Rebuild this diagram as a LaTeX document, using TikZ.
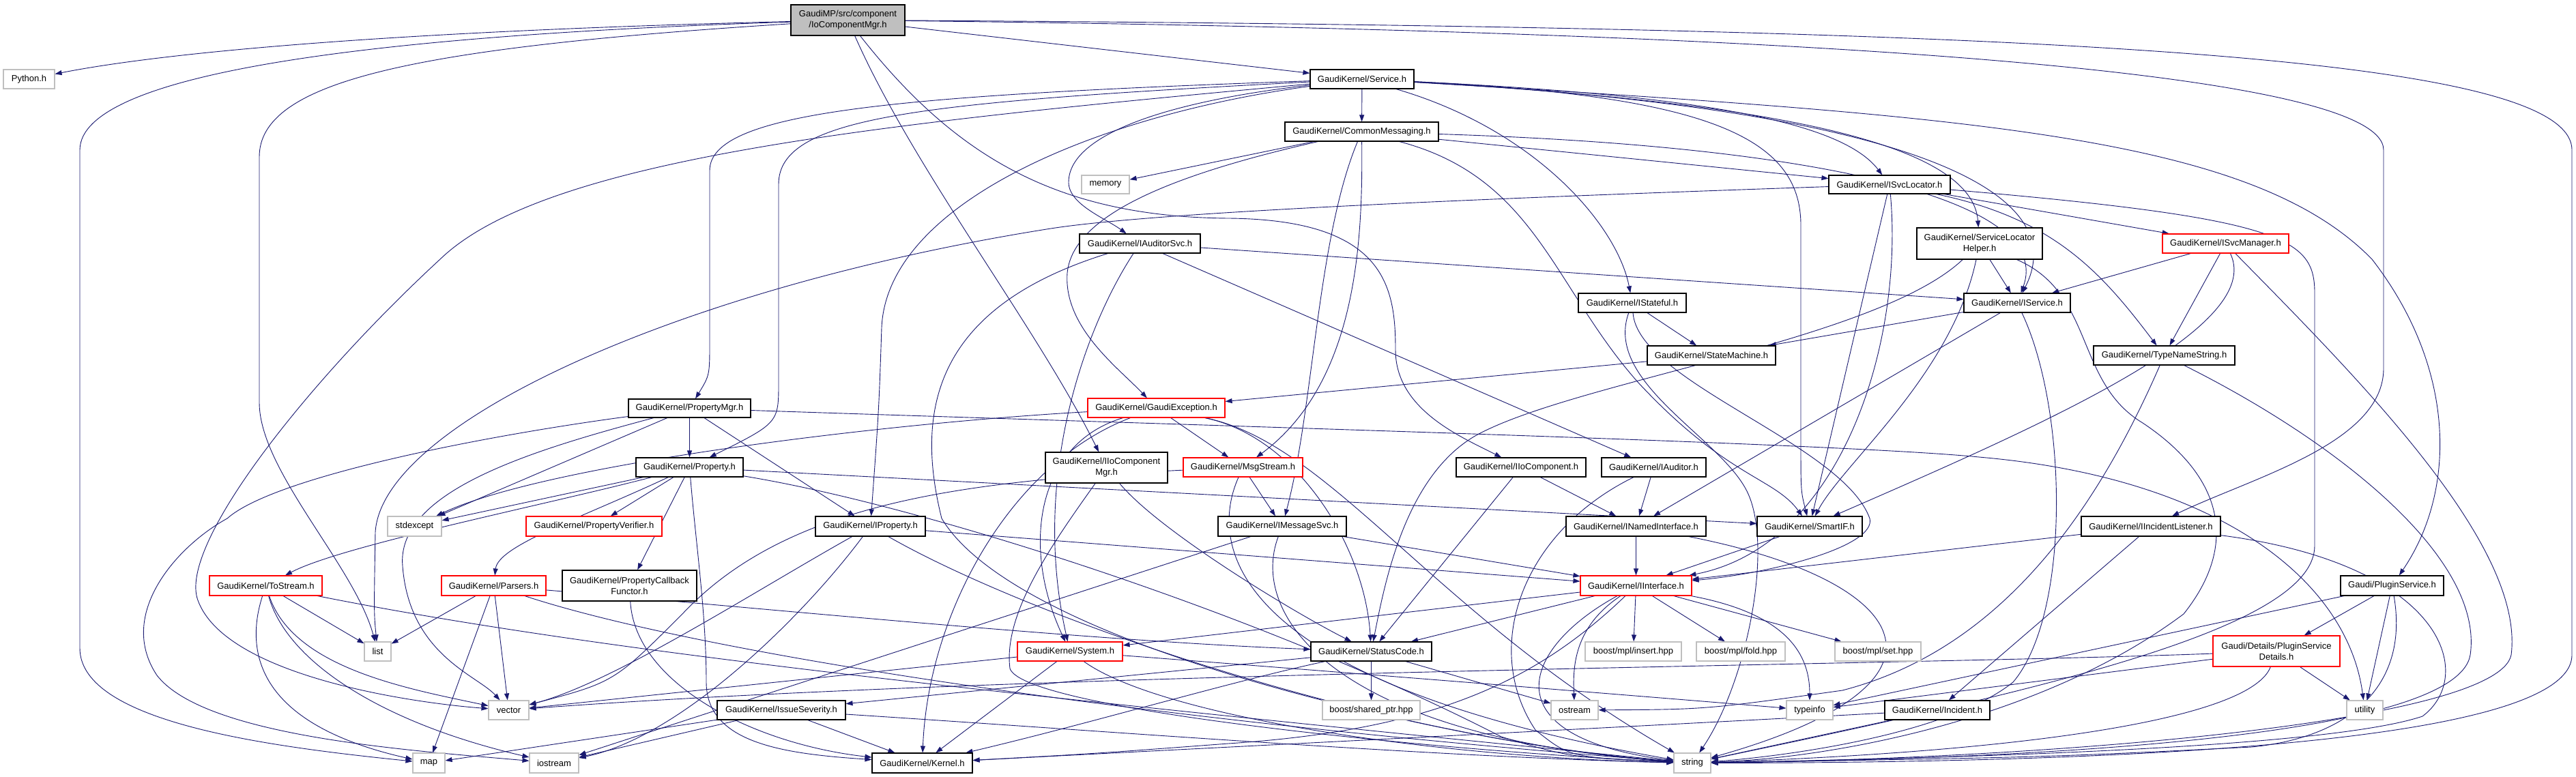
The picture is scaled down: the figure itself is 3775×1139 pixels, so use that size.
\documentclass[tikz,border=0pt]{standalone}
\usepackage{fontspec}
\setmainfont{Liberation Sans}
\usetikzlibrary{arrows.meta}
\pgfdeclarelayer{bg}
\pgfdeclarelayer{back}
\pgfsetlayers{back,bg,main}
\definecolor{edgec}{HTML}{191970}
\definecolor{extc}{HTML}{BFBFBF}
\definecolor{mainfill}{HTML}{BFBFBF}
\definecolor{redc}{HTML}{FF0000}
\newcommand\fs{\fontsize{13}{16}\selectfont}
\newcommand\nd[7]{\node[#6, minimum width={#4pt-#2pt}, minimum height={#5pt-#3pt}] (#1) at ({(#2+#4)/2},{(#3+#5)/2}) {#7};}
\tikzset{
 bx/.style={draw=black, line width=1.1pt, fill=white, inner sep=0pt, align=center, font=\fs},
 ext/.style={bx, draw=extc},
 rbx/.style={bx, draw=redc},
 mainbx/.style={bx, fill=mainfill},
 ed/.style={draw=edgec, line width=0.9pt, -{Triangle[length=10pt,width=7pt]}}
}
\begin{document}
\begin{tikzpicture}[x=1pt,y=-1pt]
\begin{pgfonlayer}{back}
\fill[white] (0,0) rectangle (3775,1139);
\end{pgfonlayer}
\useasboundingbox (0,0) rectangle (3775,1139);
\nd{main}{1159}{7}{1326}{52}{mainbx}{GaudiMP/src/component\\/IoComponentMgr.h}
\nd{python}{5}{102}{80}{130}{ext}{Python.h}
\nd{service}{1920}{102}{2072}{130}{bx}{GaudiKernel/Service.h}
\nd{commsg}{1883}{179}{2108}{207}{bx}{GaudiKernel/CommonMessaging.h}
\nd{memory}{1585}{257}{1655}{284}{ext}{memory}
\nd{svcloc}{2680}{257}{2858}{284}{bx}{GaudiKernel/ISvcLocator.h}
\nd{auditsvc}{1582}{343}{1759}{371}{bx}{GaudiKernel/IAuditorSvc.h}
\nd{slhelper}{2809}{334}{2993}{380}{bx}{GaudiKernel/ServiceLocator\\Helper.h}
\nd{svcmgr}{3169}{343}{3354}{371}{rbx}{GaudiKernel/ISvcManager.h}
\nd{istateful}{2313}{430}{2471}{458}{bx}{GaudiKernel/IStateful.h}
\nd{iservice}{2878}{430}{3034}{458}{bx}{GaudiKernel/IService.h}
\nd{statemach}{2414}{507}{2602}{535}{bx}{GaudiKernel/StateMachine.h}
\nd{typename}{3068}{507}{3275}{535}{bx}{GaudiKernel/TypeNameString.h}
\nd{propmgr}{921}{585}{1100}{612}{bx}{GaudiKernel/PropertyMgr.h}
\nd{gexc}{1594}{584}{1795}{612}{rbx}{GaudiKernel/GaudiException.h}
\nd{property}{932}{671}{1089}{699}{bx}{GaudiKernel/Property.h}
\nd{iiocompmgr}{1532}{663}{1711}{708}{bx}{GaudiKernel/IIoComponent\\Mgr.h}
\nd{msgstream}{1734}{671}{1909}{699}{rbx}{GaudiKernel/MsgStream.h}
\nd{iiocomp}{2134}{671}{2324}{699}{bx}{GaudiKernel/IIoComponent.h}
\nd{iauditor}{2347}{671}{2500}{699}{bx}{GaudiKernel/IAuditor.h}
\nd{stdexcept}{568}{757}{647}{786}{ext}{stdexcept}
\nd{propverif}{771}{757}{970}{786}{rbx}{GaudiKernel/PropertyVerifier.h}
\nd{iproperty}{1195}{757}{1356}{786}{bx}{GaudiKernel/IProperty.h}
\nd{imsgsvc}{1785}{757}{1973}{786}{bx}{GaudiKernel/IMessageSvc.h}
\nd{inamed}{2295}{757}{2500}{786}{bx}{GaudiKernel/INamedInterface.h}
\nd{smartif}{2575}{757}{2729}{786}{bx}{GaudiKernel/SmartIF.h}
\nd{iincl}{3050}{757}{3254}{786}{bx}{GaudiKernel/IIncidentListener.h}
\nd{tostream}{307}{844}{472}{873}{rbx}{GaudiKernel/ToStream.h}
\nd{parsers}{647}{844}{800}{873}{rbx}{GaudiKernel/Parsers.h}
\nd{pcbf}{824}{836}{1021}{881}{bx}{GaudiKernel/PropertyCallback\\Functor.h}
\nd{iinterface}{2316}{844}{2479}{873}{rbx}{GaudiKernel/IInterface.h}
\nd{plugin}{3430}{844}{3581}{873}{bx}{Gaudi/PluginService.h}
\nd{list}{534}{941}{573}{969}{ext}{list}
\nd{system}{1491}{941}{1645}{969}{rbx}{GaudiKernel/System.h}
\nd{statuscode}{1921}{941}{2098}{969}{bx}{GaudiKernel/StatusCode.h}
\nd{mplinsert}{2323}{941}{2464}{969}{ext}{boost/mpl/insert.hpp}
\nd{mplfold}{2486}{941}{2616}{969}{ext}{boost/mpl/fold.hpp}
\nd{mplset}{2689}{941}{2815}{969}{ext}{boost/mpl/set.hpp}
\nd{psdetails}{3243}{932}{3429}{977}{rbx}{Gaudi/Details/PluginService\\Details.h}
\nd{vector}{716}{1027}{775}{1055}{ext}{vector}
\nd{issuesev}{1051}{1027}{1239}{1055}{bx}{GaudiKernel/IssueSeverity.h}
\nd{sharedptr}{1938}{1027}{2081}{1055}{ext}{boost/shared\_ptr.hpp}
\nd{ostream}{2273}{1027}{2342}{1055}{ext}{ostream}
\nd{typeinfo}{2618}{1027}{2686}{1055}{ext}{typeinfo}
\nd{incident}{2762}{1027}{2916}{1055}{bx}{GaudiKernel/Incident.h}
\nd{utility}{3439}{1027}{3492}{1055}{ext}{utility}
\nd{map}{605}{1104}{652}{1133}{ext}{map}
\nd{iostream}{776}{1104}{848}{1133}{ext}{iostream}
\nd{kernel}{1278}{1104}{1425}{1133}{bx}{GaudiKernel/Kernel.h}
\nd{string}{2453}{1104}{2507}{1133}{ext}{string}

\begin{pgfonlayer}{bg}
% main
\draw[ed] (main) .. controls (600,45) and (250,75) .. (python);
\draw[ed] (main) .. controls (600,50) and (117,100) .. (117,220) -- (117,950) .. controls (117,1060) and (400,1095) .. (map);
\draw[ed] (main) .. controls (600,70) and (380,120) .. (380,230) -- (380,590) .. controls (380,690) and (520,830) .. (list);
\draw[ed] (main) -- (service);
\draw[ed] (main) .. controls (1340,250) and (1520,480) .. (iiocompmgr);
\draw[ed] (main) .. controls (1400,230) and (1550,318) .. (1800,320) .. controls (2030,322) and (2045,420) .. (2045,513) .. controls (2045,600) and (2140,640) .. (iiocomp);
\draw[ed] (main) .. controls (2600,45) and (3493,100) .. (3493,220) -- (3493,540) .. controls (3493,650) and (3300,700) .. (iincl);
\draw[ed] (main) .. controls (3000,40) and (3769,80) .. (3769,220) -- (3769,960) .. controls (3769,1100) and (3000,1118) .. (string);
% service
\draw[ed] (service) -- (commsg);
\draw[ed] (service) .. controls (2500,140) and (2700,180) .. (svcloc);
\draw[ed] (service) .. controls (2600,150) and (2890,210) .. (slhelper);
\draw[ed] (service) .. controls (2800,160) and (3040,280) .. (iservice);
\draw[ed] (service) .. controls (2250,190) and (2370,330) .. (istateful);
\draw[ed] (service) .. controls (2500,140) and (2639,200) .. (2639,330) -- (2639,650) .. controls (2639,720) .. (smartif);
\draw[ed] (service) .. controls (1300,140) and (1040,165) .. (1040,250) -- (1040,500) .. controls (1040,550) .. (propmgr);
\draw[ed] (service) .. controls (1350,150) and (1141,170) .. (1141,270) -- (1141,560) .. controls (1141,620) .. (property);
\draw[ed] (service) .. controls (1600,170) and (1300,300) .. (1292,480) .. controls (1288,600) .. (iproperty);
\draw[ed] (service) .. controls (1700,150) and (1565,200) .. (1566,268) .. controls (1567,300) and (1620,320) .. (auditsvc);
\draw[ed] (service) .. controls (1300,180) and (800,230) .. (645,380) .. controls (450,560) and (260,800) .. (290,880) .. controls (330,990) and (600,1030) .. (vector);
\draw[ed] (service) .. controls (2900,170) and (3300,200) .. (3476,380) .. controls (3600,540) and (3600,720) .. (plugin);
% commonmessaging
\draw[ed] (commsg) -- (memory);
\draw[ed] (commsg) -- (svcloc);
\draw[ed] (commsg) .. controls (2700,215) and (3010,300) .. (iservice);
\draw[ed] (commsg) .. controls (1700,260) and (1572,320) .. (1564,400) .. controls (1558,480) and (1640,540) .. (gexc);
\draw[ed] (commsg) .. controls (1997,350) and (1990,560) .. (msgstream);
\draw[ed] (commsg) .. controls (1930,350) and (1925,600) .. (imsgsvc);
\draw[ed] (commsg) .. controls (2250,260) and (2276,420) .. (2400,560) .. controls (2530,700) and (2600,700) .. (smartif);
% isvclocator
\draw[ed] (svcloc) -- (svcmgr);
\draw[ed] (svcloc) .. controls (3010,320) and (3080,400) .. (typename);
\draw[ed] (svcloc) -- (smartif);
\draw[ed] (svcloc) .. controls (2790,500) and (2700,800) .. (iinterface);
\draw[ed] (svcloc) .. controls (2200,290) and (1700,310) .. (1540,335) .. controls (1000,420) and (560,620) .. (550,780) .. controls (548,900) .. (list);
\draw[ed] (svcloc) .. controls (3350,320) and (3392,350) .. (3392,430) -- (3392,800) .. controls (3392,920) and (3000,1010) .. (string);
% servicelocatorhelper
\draw[ed] (slhelper) -- (iservice);
\draw[ed] (slhelper) .. controls (2750,500) and (2300,560) .. (2160,640) .. controls (2060,700) and (2030,850) .. (statuscode);
\draw[ed] (slhelper) .. controls (2860,550) and (2700,680) .. (smartif);
\draw[ed] (slhelper) .. controls (3070,430) and (3040,560) .. (3140,620) .. controls (3260,700) and (3280,800) .. (3200,900) .. controls (3000,1050) and (2700,1110) .. (string);
% isvcmanager
\draw[ed] (svcmgr) -- (iservice);
\draw[ed] (svcmgr) -- (typename);
\draw[ed] (svcmgr) .. controls (3320,480) and (3000,620) .. (smartif);
\draw[ed] (svcmgr) .. controls (3461,560) and (3700,800) .. (3680,960) .. controls (3660,1060) and (3000,1112) .. (string);
% iauditorsvc
\draw[ed] (auditsvc) -- (iservice);
\draw[ed] (auditsvc) -- (iauditor);
\draw[ed] (auditsvc) .. controls (1590,480) and (1510,700) .. (system);
\draw[ed] (auditsvc) .. controls (1370,450) and (1340,600) .. (1380,760) .. controls (1500,960) and (2200,1100) .. (string);
% istateful
\draw[ed] (istateful) -- (statemach);
\draw[ed] (istateful) .. controls (2400,560) and (2700,650) .. (2740,760) .. controls (2750,800) and (2600,840) .. (iinterface);
\draw[ed] (istateful) .. controls (2350,560) and (2520,640) .. (2560,720) .. controls (2600,800) and (2560,1000) .. (string);
% iservice
\draw[ed] (iservice) -- (statemach);
\draw[ed] (iservice) -- (inamed);
\draw[ed] (iservice) .. controls (3030,600) and (3035,900) .. (2950,1000) .. controls (2850,1080) and (2600,1110) .. (string);
% statemachine
\draw[ed] (statemach) -- (gexc);
% typenamestring
\draw[ed] (typename) .. controls (3050,800) and (2900,960) .. (2700,1012) .. controls (2500,1040) .. (ostream);
\draw[ed] (typename) .. controls (3430,650) and (3640,820) .. (3620,960) .. controls (3600,1080) and (3000,1112) .. (string);
% propertymgr
\draw[ed] (propmgr) -- (property);
\draw[ed] (propmgr) -- (iproperty);
\draw[ed] (propmgr) -- (stdexcept);
\draw[ed] (propmgr) .. controls (780,660) and (580,720) .. (590,830) .. controls (600,960) and (700,990) .. (vector);
\draw[ed] (propmgr) .. controls (700,640) and (400,700) .. (333,760) .. controls (260,800) and (170,900) .. (230,990) .. controls (300,1080) and (600,1100) .. (iostream);
\draw[ed] (propmgr) .. controls (1800,625) and (2700,650) .. (2900,670) .. controls (3250,700) and (3440,850) .. (utility);
% property
\draw[ed] (property) -- (propverif);
\draw[ed] (property) .. controls (850,760) and (730,800) .. (parsers);
\draw[ed] (property) .. controls (800,740) and (500,800) .. (tostream);
\draw[ed] (property) -- (pcbf);
\draw[ed] (property) -- (stdexcept);
\draw[ed] (property) .. controls (1020,800) and (1035,900) .. (1035,1000) .. controls (1035,1090) and (1150,1105) .. (kernel);
\draw[ed] (property) -- (smartif);
\draw[ed] (property) .. controls (1350,740) and (1850,900) .. (2200,1080) .. controls (2300,1110) .. (string);
% iproperty
\draw[ed] (iproperty) -- (iinterface);
\draw[ed] (iproperty) .. controls (1100,870) and (900,1000) .. (vector);
\draw[ed] (iproperty) .. controls (1180,900) and (1000,1080) .. (iostream);
\draw[ed] (iproperty) .. controls (1500,900) and (2000,1080) .. (string);
% imessagesvc
\draw[ed] (imsgsvc) -- (iinterface);
\draw[ed] (imsgsvc) .. controls (1830,900) and (1950,1080) .. (string);
\draw[ed] (imsgsvc) -- (iostream);
% msgstream
\draw[ed] (msgstream) -- (imsgsvc);
\draw[ed] (msgstream) .. controls (1770,800) and (1800,1000) .. (string);
\draw[ed] (msgstream) .. controls (1400,705) and (1150,740) .. (1000,900) .. controls (900,1000) .. (vector);
% iiocomponentmgr
\draw[ed] (iiocompmgr) .. controls (1700,780) and (1900,900) .. (statuscode);
\draw[ed] (iiocompmgr) .. controls (1540,800) and (1470,900) .. (1480,980) .. controls (1500,1040) and (2100,1100) .. (string);
% iiocomponent, iauditor
\draw[ed] (iiocomp) -- (inamed);
\draw[ed] (iiocomp) -- (statuscode);
\draw[ed] (iauditor) -- (inamed);
\draw[ed] (iauditor) .. controls (2230,780) and (2170,950) .. (2250,1070) .. controls (2300,1110) .. (string);
% inamedinterface, smartif
\draw[ed] (inamed) -- (iinterface);
\draw[ed] (inamed) .. controls (2800,850) and (2900,1000) .. (string);
\draw[ed] (smartif) -- (iinterface);
% iincidentlistener
\draw[ed] (iincl) -- (iinterface);
\draw[ed] (iincl) -- (incident);
\draw[ed] (iincl) .. controls (3582,827) and (3630,990) .. (3550,1050) .. controls (3400,1100) and (2800,1112) .. (string);
% tostream
\draw[ed] (tostream) -- (list);
\draw[ed] (tostream) .. controls (430,980) and (600,1010) .. (vector);
\draw[ed] (tostream) .. controls (360,950) and (370,1060) .. (map);
\draw[ed] (tostream) .. controls (420,970) and (560,1060) .. (iostream);
\draw[ed] (tostream) .. controls (900,960) and (1500,1020) .. (string);
% parsers
\draw[ed] (parsers) -- (list);
\draw[ed] (parsers) -- (vector);
\draw[ed] (parsers) -- (map);
\draw[ed] (parsers) .. controls (1000,950) and (1600,1050) .. (string);
\draw[ed] (parsers) .. controls (1100,890) and (1600,940) .. (statuscode);
% pcbf
\draw[ed] (pcbf) .. controls (930,1000) and (1100,1090) .. (kernel);
% iinterface
\draw[ed] (iinterface) -- (system);
\draw[ed] (iinterface) -- (statuscode);
\draw[ed] (iinterface) .. controls (2250,1000) and (2100,1070) .. (1800,1090) .. controls (1600,1105) .. (kernel);
\draw[ed] (iinterface) -- (mplinsert);
\draw[ed] (iinterface) -- (mplfold);
\draw[ed] (iinterface) -- (mplset);
\draw[ed] (iinterface) .. controls (2305,920) and (2305,980) .. (ostream);
\draw[ed] (iinterface) .. controls (2620,900) and (2652,960) .. (typeinfo);
\draw[ed] (iinterface) .. controls (2230,950) and (2180,1080) .. (string);
% plugin
\draw[ed] (plugin) -- (psdetails);
\draw[ed] (plugin) -- (utility);
\draw[ed] (plugin) .. controls (3530,1000) and (3450,1080) .. (3300,1095) .. controls (3000,1110) .. (string);
\draw[ed] (plugin) -- (typeinfo);
% psdetails
\draw[ed] (psdetails) -- (utility);
\draw[ed] (psdetails) .. controls (3300,1050) and (3000,1100) .. (string);
\draw[ed] (psdetails) -- (typeinfo);
\draw[ed] (psdetails) .. controls (2800,975) and (1500,985) .. (vector);
% system
\draw[ed] (system) -- (kernel);
\draw[ed] (system) .. controls (1700,1050) and (2100,1110) .. (string);
\draw[ed] (system) .. controls (1900,980) and (2400,1020) .. (typeinfo);
\draw[ed] (system) -- (vector);
% statuscode
\draw[ed] (statuscode) -- (sharedptr);
\draw[ed] (statuscode) -- (ostream);
\draw[ed] (statuscode) .. controls (1800,1000) and (1600,1060) .. (kernel);
\draw[ed] (statuscode) -- (issuesev);
% issueseverity
\draw[ed] (issuesev) -- (kernel);
\draw[ed] (issuesev) -- (map);
\draw[ed] (issuesev) -- (iostream);
\draw[ed] (issuesev) .. controls (1600,1070) and (2100,1110) .. (string);
% incident
\draw[ed] (incident) -- (string);
\draw[ed] (incident) .. controls (2300,1070) and (1700,1100) .. (kernel);
% gaudiexception
\draw[ed] (gexc) -- (msgstream);
\draw[ed] (gexc) .. controls (1520,650) and (1495,800) .. (system);
\draw[ed] (gexc) .. controls (1480,680) and (1360,900) .. (kernel);
\draw[ed] (gexc) .. controls (1900,640) and (2000,800) .. (statuscode);
\draw[ed] (gexc) .. controls (1950,650) and (2100,900) .. (string);
\draw[ed] (gexc) .. controls (1300,620) and (800,680) .. (stdexcept);
\end{pgfonlayer}
\end{tikzpicture}
\end{document}
